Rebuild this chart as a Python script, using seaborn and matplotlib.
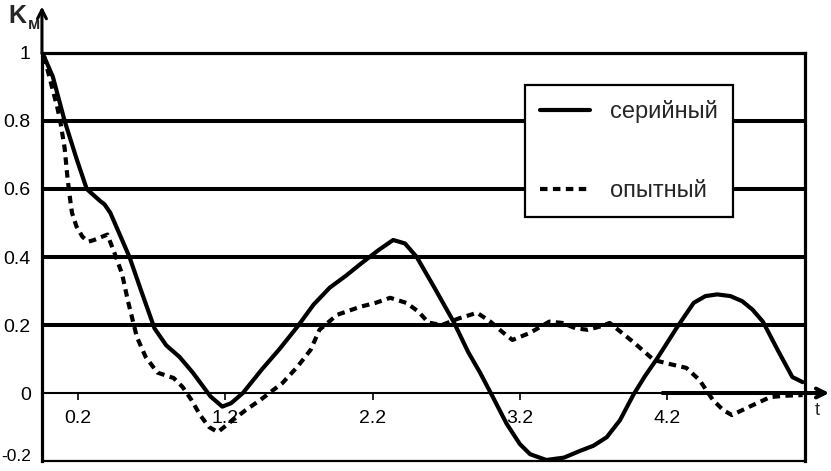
import numpy as np
import pandas as pd
import matplotlib
matplotlib.use('Agg')
import matplotlib.pyplot as plt
import matplotlib.transforms as mtransforms
import seaborn as sns

# данные
t_serial = [-0.03, 0.03, 0.11, 0.19, 0.26, 0.35, 0.38, 0.42, 0.48, 0.55, 0.63, 0.72,
            0.80, 0.89, 0.98, 1.10, 1.18, 1.24, 1.32, 1.45, 1.57, 1.69, 1.80, 1.91,
            2.02, 2.12, 2.24, 2.34, 2.42, 2.50, 2.62, 2.75, 2.85, 2.93, 3.01, 3.11,
            3.20, 3.27, 3.38, 3.50, 3.61, 3.70, 3.79, 3.88, 3.97, 4.05, 4.13, 4.27,
            4.38, 4.46, 4.54, 4.63, 4.71, 4.78, 4.85, 4.95, 5.05, 5.12]
k_serial = [0.99, 0.93, 0.80, 0.69, 0.60, 0.565, 0.555, 0.53, 0.47, 0.40, 0.30, 0.19,
            0.14, 0.106, 0.06, -0.01, -0.04, -0.03, 0.00, 0.07, 0.13, 0.195, 0.26, 0.31,
            0.345, 0.38, 0.42, 0.45, 0.44, 0.40, 0.31, 0.21, 0.12, 0.06, -0.006, -0.09,
            -0.15, -0.18, -0.197, -0.19, -0.17, -0.155, -0.13, -0.08, -0.006, 0.05, 0.10, 0.195,
            0.265, 0.285, 0.29, 0.285, 0.27, 0.245, 0.21, 0.127, 0.047, 0.032]

t_test = [-0.03, 0.03, 0.06, 0.08, 0.11, 0.13, 0.15, 0.16, 0.19, 0.23, 0.27, 0.31,
          0.35, 0.40, 0.45, 0.50, 0.54, 0.60, 0.66, 0.74, 0.85, 0.91, 0.97, 1.03,
          1.09, 1.15, 1.25, 1.34, 1.44, 1.59, 1.69, 1.78, 1.84, 1.96, 2.12, 2.22,
          2.32, 2.43, 2.51, 2.58, 2.67, 2.79, 2.91, 3.00, 3.08, 3.15, 3.27, 3.40,
          3.49, 3.58, 3.66, 3.74, 3.81, 3.97, 4.11, 4.22, 4.33, 4.42, 4.51, 4.58,
          4.64, 4.76, 4.90, 5.00, 5.12]
k_test = [0.99, 0.89, 0.84, 0.80, 0.72, 0.63, 0.56, 0.53, 0.49, 0.46, 0.445, 0.45,
          0.457, 0.466, 0.41, 0.35, 0.27, 0.165, 0.106, 0.06, 0.044, 0.018, -0.02, -0.065,
          -0.10, -0.115, -0.08, -0.05, -0.02, 0.03, 0.077, 0.127, 0.186, 0.23, 0.254, 0.265,
          0.28, 0.265, 0.24, 0.207, 0.20, 0.22, 0.236, 0.21, 0.18, 0.156, 0.177, 0.21,
          0.206, 0.19, 0.186, 0.195, 0.206, 0.15, 0.097, 0.085, 0.074, 0.038, -0.02, -0.05,
          -0.065, -0.04, -0.012, -0.008, -0.006]

x_ticks = [0.2, 1.2, 2.2, 3.2, 4.2]
x_tick_labels = ['0.2', '1.2', '2.2', '3.2', '4.2']
y_ticks = [1.0, 0.8, 0.6, 0.4, 0.2, 0.0, -0.2]
y_tick_labels = ['1', '0.8', '0.6', '0.4', '0.2', '0', '-0.2']
grid_levels = [0.2, 0.4, 0.6, 0.8]
series_names = ['серийный', 'опытный']

sns.set_theme(style='white')
plt.rcParams['font.family'] = ['Liberation Sans', 'DejaVu Sans']

fig = plt.figure(figsize=(8.31, 4.71), dpi=100)
ax = fig.add_axes([0.0505, 0.0212, 0.9182, 0.8663])

XMIN, XMAX = -0.044, 5.136
ax.set_xlim(XMIN, XMAX)
ax.set_ylim(-0.2, 1.0)

# жирные горизонтальные линии сетки
for lvl in grid_levels:
    ax.axhline(lvl, color='black', linewidth=2.9, zorder=1)

df_s = pd.DataFrame({'t': t_serial, 'k': k_serial})
df_t = pd.DataFrame({'t': t_test, 'k': k_test})
sns.lineplot(data=df_s, x='t', y='k', sort=False, color='black', linewidth=3.0,
             label=series_names[0], ax=ax, zorder=3)
sns.lineplot(data=df_t, x='t', y='k', sort=False, color='black', linewidth=3.0,
             linestyle=(0, (1.8, 1.3)), label=series_names[1], ax=ax, zorder=3)

# оси и рамка
for side in ['left', 'right', 'top']:
    ax.spines[side].set_color('black')
    ax.spines[side].set_linewidth(2.3)
ax.spines['bottom'].set_position(('data', 0))
ax.spines['bottom'].set_color('black')
ax.spines['bottom'].set_linewidth(1.5)
ax.axhline(-0.2, color='black', linewidth=1.6, clip_on=False, zorder=2)

ax.set_xticks(x_ticks)
ax.set_xticklabels(x_tick_labels)
ax.set_yticks(y_ticks)
ax.set_yticklabels(y_tick_labels)
ax.tick_params(axis='x', direction='out', length=5, width=1.2, color='black',
               pad=7, labelsize=14, labelcolor='black', bottom=True)
ax.tick_params(axis='y', length=0, pad=8, labelsize=14, labelcolor='black')
ax.set_xlabel('')
ax.set_ylabel('')

# нижнюю подпись чуть уменьшить и поднять, чтобы не обрезалась
low_label = ax.get_yticklabels()[-1]
low_label.set_fontsize(12.5)
low_label.set_transform(low_label.get_transform() +
                        mtransforms.ScaledTranslation(0, 4 / 72, fig.dpi_scale_trans))

# стрелки осей
ax.annotate('', xy=(XMIN, 1.145), xytext=(XMIN, 0.99), xycoords='data',
            arrowprops=dict(arrowstyle='->', color='black', lw=2.2,
                            mutation_scale=16), annotation_clip=False)
ax.annotate('', xy=(5.32, 0), xytext=(4.15, 0), xycoords='data',
            arrowprops=dict(arrowstyle='->', color='black', lw=2.9,
                            mutation_scale=16), annotation_clip=False)

ax.text(5.22, -0.05, 't', fontsize=13, ha='center', va='center', clip_on=False)
ax.text(-0.27, 1.11, 'K', fontsize=18, fontweight='bold', ha='left', va='center',
        clip_on=False)
ax.text(-0.14, 1.085, 'м', fontsize=12, fontweight='bold', ha='left', va='center',
        clip_on=False)

leg = ax.legend(loc='upper left', bbox_to_anchor=(0.633, 0.922), frameon=True,
                fancybox=False, fontsize=17, handlelength=2.1, handletextpad=0.85,
                labelspacing=2.4, borderpad=0.65, borderaxespad=0)
leg.get_frame().set_edgecolor('black')
leg.get_frame().set_linewidth(1.6)
leg.get_frame().set_facecolor('white')
leg.get_frame().set_alpha(1)
leg.set_zorder(5)

fig.savefig('out.png', dpi=100)
